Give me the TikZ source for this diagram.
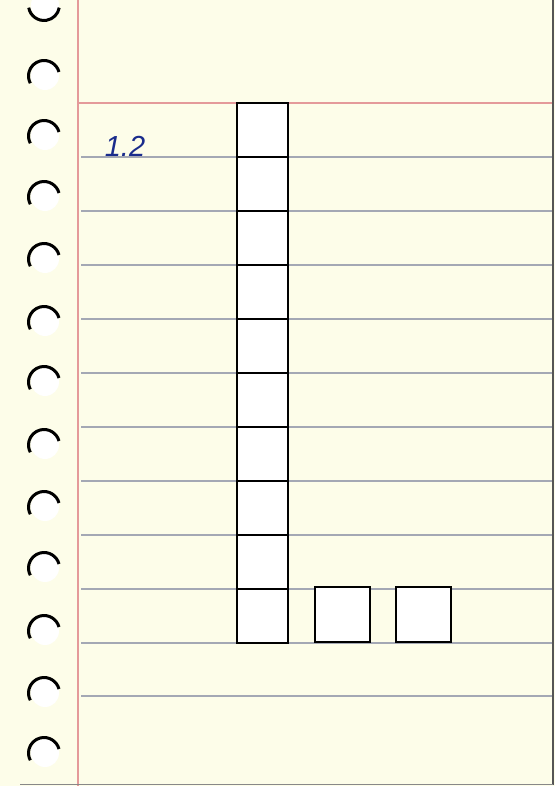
\documentclass[tikz,border=0pt]{standalone}
\usepackage{fontspec}
\setsansfont{Liberation Sans}
\definecolor{paper}{HTML}{FDFDE9}
\definecolor{redline}{HTML}{E49A9A}
\definecolor{rule}{HTML}{A4A8B4}
\definecolor{ink}{HTML}{1A2C8C}
\definecolor{edge}{HTML}{555555}
\begin{document}
\begin{tikzpicture}[x=1pt,y=1pt,
  sq/.style={draw=black, line width=2.9pt, fill=white, inner sep=0pt, minimum width=51pt, minimum height=54pt},
  sqb/.style={draw=black, line width=2.9pt, fill=white, inner sep=0pt, minimum width=55pt, minimum height=55pt},
  ruleline/.style={draw=rule, line width=1.4pt},
  ring/.style={draw=black, line width=3pt},
  hole/.style={fill=white, draw=none}]
\useasboundingbox (0,0) rectangle (555,786);
\fill[paper] (0,0) rectangle (555,786);
% ring holes
\foreach \cy in {710,650,589,527,464,404,341,279,218,155,93,33} {
  \fill[hole] (45,\cy) circle (14);
  \draw[ring] ([shift={(15:15.5)}]44,\cy) arc (15:208:15.5);
}
\fill[hole] (45,781) circle (14);
\draw[ring] ([shift={(190:15.5)}]44,781) arc (190:350:15.5);
% ruled lines
\foreach \ly in {629,575,521,467,413,359,305,251,197,143,90} {
  \draw[ruleline] (81,\ly) -- (553,\ly);
}
% margin lines
\draw[redline, line width=1.3pt] (78,786) -- (78,0);
\draw[redline, line width=1.4pt] (78,683) -- (553,683);
% page edges
\draw[edge, line width=1.3pt] (553,786) -- (553,1);
\draw[edge!70, line width=1.3pt] (20,1.5) -- (553,1.5);
% label
\node[text=ink, font=\sffamily\itshape\fontsize{29}{29}\selectfont] (lbl) at (125,640) {1.2};
% column of squares
\foreach \i/\cy in {1/656,2/602,3/548,4/494,5/440,6/386,7/332,8/278,9/224,10/170} {
  \node[sq] (c\i) at (262.5,\cy) {};
}
\node[sqb] (s1) at (342.5,171.5) {};
\node[sqb] (s2) at (423.5,171.5) {};
\end{tikzpicture}
\end{document}
